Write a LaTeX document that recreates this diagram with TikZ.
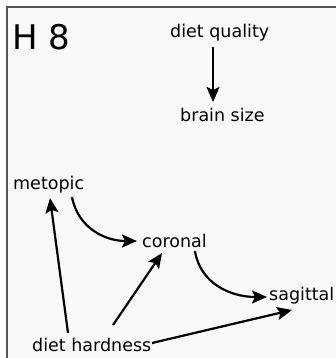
\documentclass[tikz,border=0pt]{standalone}
\usepackage{fontspec}
\setmainfont{DejaVu Sans}
\usetikzlibrary{arrows.meta}
\definecolor{bgin}{HTML}{F9F9F9}
\definecolor{frame}{HTML}{555555}
\tikzset{
  lbl/.style={inner sep=0pt, anchor=base west, font=\fontsize{17.5}{20}\selectfont},
  big/.style={inner sep=0pt, anchor=base west, font=\fontsize{34}{38}\selectfont},
  arr/.style={line width=2.2pt, -{Stealth[length=15pt,width=13pt,inset=3pt]}},
}
\begin{document}
\begin{tikzpicture}[x=1pt,y=-1pt]
\useasboundingbox (0,0) rectangle (336,358);
\fill[white] (0,0) rectangle (336,358);
\fill[bgin] (7,7) rectangle (336,358);
\draw[frame, line width=1.5pt] (7,358) -- (7,7) -- (336,7);
\node[big] (h8) at (12,50) {H 8};
\node[lbl] (dq) at (170,38) {diet quality};
\node[lbl] (bs) at (180,122) {brain size};
\node[lbl] (met) at (13,189) {metopic};
\node[lbl] (cor) at (142,247) {coronal};
\node[lbl] (sag) at (269,300) {sagittal};
\node[lbl] (hard) at (32,351) {diet hardness};
\draw[arr] ([shift={(43,9)}]dq.base west) -- ([shift={(33,-20)}]bs.base west);
\draw[arr] ([shift={(59,8)}]met.base west) .. controls +(6,31) and +(-32,0) .. ([shift={(-5,-6)}]cor.base west);
\draw[arr] ([shift={(53,4)}]cor.base west) .. controls +(5,32) and +(-37,0) .. ([shift={(-2,-3)}]sag.base west);
\draw[arr] ([shift={(36,-18)}]hard.base west) -- ([shift={(37,9)}]met.base west);
\draw[arr] ([shift={(81,-26)}]hard.base west) -- ([shift={(20,6)}]cor.base west);
\draw[arr] ([shift={(120,-8)}]hard.base west) -- ([shift={(23,10)}]sag.base west);
\end{tikzpicture}
\end{document}
